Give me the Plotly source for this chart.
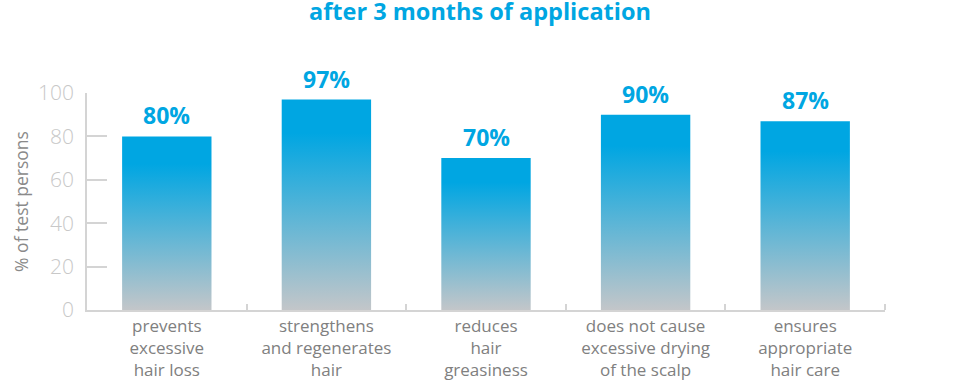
import plotly.graph_objects as go

categories = [
    "prevents<br>excessive<br>hair loss",
    "strengthens<br>and regenerates<br>hair",
    "reduces<br>hair<br>greasiness",
    "does not cause<br>excessive drying<br>of the scalp",
    "ensures<br>appropriate<br>hair care",
]
values = [80, 97, 70, 90, 87]
y_ticks = [0, 20, 40, 60, 80, 100]

BLUE = "#00a6e2"
GRAY = "#c3c6c9"
AXIS = "#d4d4d4"
BAR_W = 0.56

fig = go.Figure()
for i, v in enumerate(values):
    x0, x1 = i - BAR_W / 2, i + BAR_W / 2
    fig.add_trace(go.Scatter(
        x=[x0, x0, x1, x1, x0], y=[0, v, v, 0, 0],
        mode="lines", line=dict(width=0), fill="toself",
        fillgradient=dict(type="vertical",
                          colorscale=[[0, GRAY], [0.84, BLUE], [1, BLUE]]),
        hoverinfo="skip", showlegend=False,
    ))

for i, v in enumerate(values):
    fig.add_annotation(
        x=i, y=v, text=f"<b>{v}%</b>", showarrow=False,
        yanchor="bottom", yshift=3,
        font=dict(family="Open Sans", size=23, color=BLUE),
    )

fig.update_layout(
    width=960, height=382,
    margin=dict(l=87, r=75, t=93, b=72, autoexpand=False),
    plot_bgcolor="white", paper_bgcolor="white",
    title=dict(text="<b>after 3 months of application</b>", x=0.5, xanchor="center",
               xref="container", yref="container", y=0.99, yanchor="top",
               pad=dict(t=0, b=0),
               font=dict(family="Open Sans", size=23.5, color=BLUE)),
    font=dict(family="Open Sans"),
)
fig.update_xaxes(
    range=[-0.5, len(values) - 0.5], showgrid=False, zeroline=False,
    showline=True, linecolor=AXIS, linewidth=1.5, automargin=False,
    tickmode="array", tickvals=list(range(len(values))), ticktext=categories,
    ticks="", tickfont=dict(size=17, color="#808080"),
    minor=dict(tickmode="array", tickvals=[i + 0.5 for i in range(len(values))],
               ticks="inside", ticklen=6, tickcolor=AXIS, tickwidth=1.5),
)
fig.update_yaxes(
    range=[0, 100], showgrid=False, zeroline=False,
    showline=True, linecolor=AXIS, linewidth=1.5, automargin=False,
    tickmode="array", tickvals=y_ticks,
    ticks="inside", ticklen=20, tickcolor=AXIS, tickwidth=1.5,
    tickfont=dict(size=21, color="#c8c8c8", weight=300), ticklabelstandoff=7,
    title=dict(text="% of test persons", font=dict(size=17.5, color="#8a8a8a"),
               standoff=5),
)
fig.write_html("out.html", config={"displayModeBar": False},
               post_script="document.body.style.margin='0';document.body.style.overflow='hidden';")
